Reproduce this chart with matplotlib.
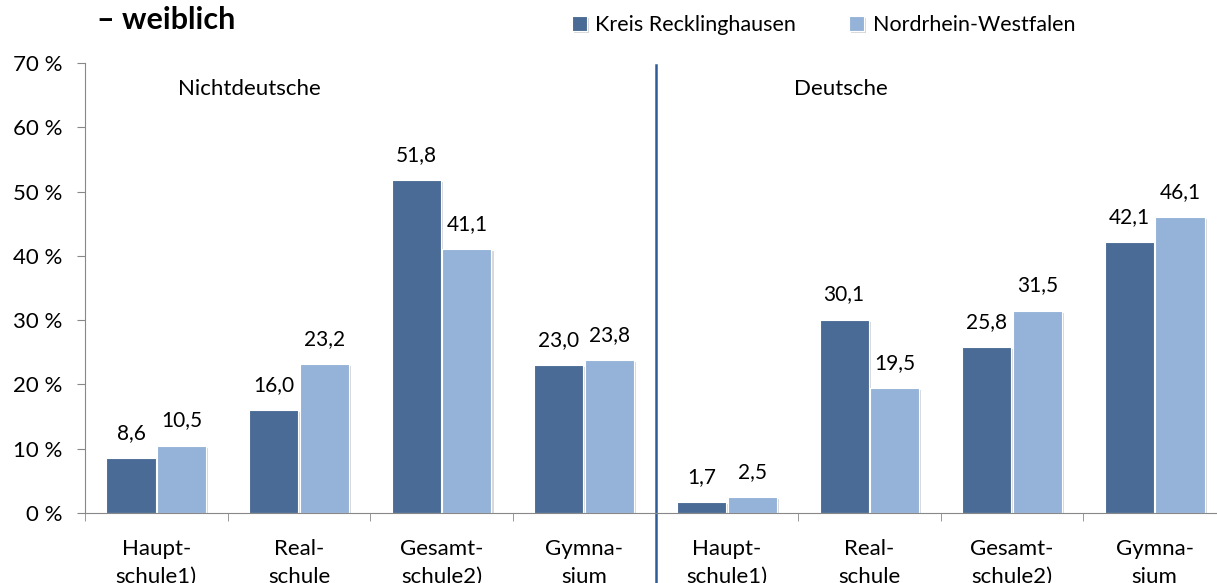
import matplotlib.pyplot as plt
import matplotlib.patheffects as pe
import numpy as np

# Daten
kategorien = ["Haupt-\nschule1)", "Real-\nschule", "Gesamt-\nschule2)", "Gymna-\nsium",
              "Haupt-\nschule1)", "Real-\nschule", "Gesamt-\nschule2)", "Gymna-\nsium"]
kreis_re = [8.6, 16.0, 51.8, 23.0, 1.7, 30.1, 25.8, 42.1]
nrw = [10.5, 23.2, 41.1, 23.8, 2.5, 19.5, 31.5, 46.1]
gruppen = ["Nichtdeutsche", "Deutsche"]
yticks = [0, 10, 20, 30, 40, 50, 60, 70]

plt.rcParams['font.family'] = ['Lato', 'DejaVu Sans']

dunkel = "#4A6B95"
hell = "#95B3D8"

fig = plt.figure(figsize=(12.17, 5.83), dpi=100)
ax = fig.add_axes([85 / 1217, 70 / 583, 1141 / 1217, 450 / 583])

x = np.arange(len(kategorien))
w = 0.345
schatten = [pe.SimplePatchShadow(offset=(1.5, -1.5), shadow_rgbFace="gray", alpha=0.3), pe.Normal()]
b1 = ax.bar(x - w / 2 - 0.005, kreis_re, w, color=dunkel, edgecolor="white", linewidth=0.8,
            label="Kreis Recklinghausen", path_effects=schatten)
b2 = ax.bar(x + w / 2 + 0.005, nrw, w, color=hell, edgecolor="white", linewidth=0.8,
            label="Nordrhein-Westfalen", path_effects=schatten)

for bars, werte in [(b1, kreis_re), (b2, nrw)]:
    for b, v in zip(bars, werte):
        ax.annotate(f"{v:.1f}".replace(".", ","), (b.get_x() + b.get_width() / 2, v),
                    xytext=(0, 18), textcoords="offset points", ha="center", va="center",
                    fontsize=15)

ax.set_xlim(-0.5, 7.5)
ax.set_ylim(0, 70)
ax.set_yticks(yticks)
ax.set_yticklabels([f"{t} %" for t in yticks], fontsize=16)
ax.set_xticks(x)
ax.set_xticklabels(kategorien, fontsize=16, linespacing=1.45)
ax.set_xticks(np.arange(-0.5, 8, 1), minor=True)
ax.tick_params(axis="x", which="major", length=0, pad=19)
ax.tick_params(axis="x", which="minor", length=6, color="#888888", direction="out")
ax.tick_params(axis="y", length=6, color="#888888", pad=10)

for s in ["top", "right"]:
    ax.spines[s].set_visible(False)
ax.spines["left"].set_color("#888888")
ax.spines["bottom"].set_color("#888888")

# Trennlinie
ax.axvline(3.5, ymin=-0.16, ymax=0.995, color="#2F5C99", linewidth=1.8, clip_on=False)

ax.text(0.65, 66, gruppen[0], ha="center", va="center", fontsize=16)
ax.text(4.8, 66, gruppen[1], ha="center", va="center", fontsize=16)

fig.text(97 / 1217, 1 - 20 / 583, "– weiblich", fontsize=22, fontweight="bold", va="center")

fig.legend(handles=[b1, b2], loc="center left", bbox_to_anchor=(563 / 1217, 1 - 25 / 583),
           ncol=2, frameon=False, fontsize=15.5, handlelength=0.7, handleheight=0.7,
           handletextpad=0.4, columnspacing=2.45, borderaxespad=0)

fig.savefig("out.png", dpi=100)
